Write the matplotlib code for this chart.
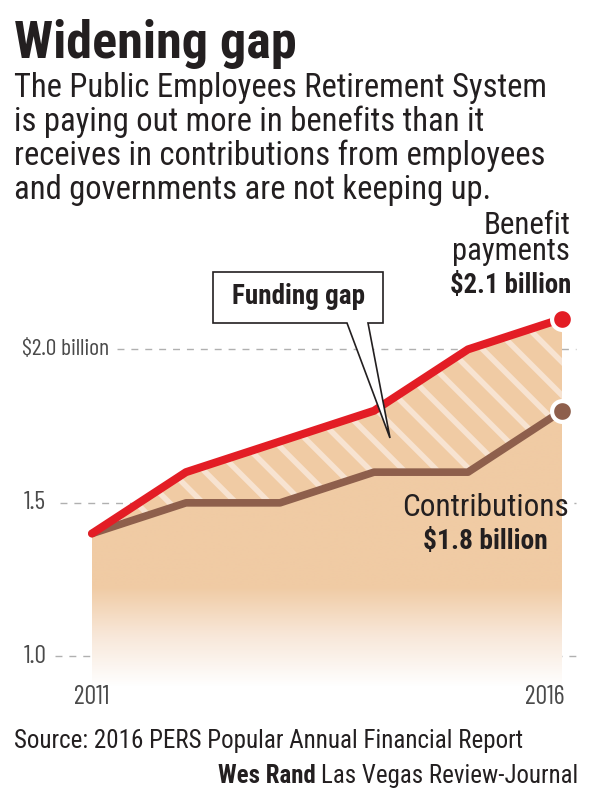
import numpy as np
import matplotlib
matplotlib.use("Agg")
import matplotlib.pyplot as plt
import matplotlib.transforms as mtransforms
from matplotlib.colors import LinearSegmentedColormap
from matplotlib.patches import Polygon

# ── data ───────────────────────────────────────────────────────────────────────
YEARS = [2011, 2012, 2013, 2014, 2015, 2016]
BENEFITS = [1.4, 1.6, 1.7, 1.8, 2.0, 2.1]        # $ billion
CONTRIBUTIONS = [1.4, 1.5, 1.5, 1.6, 1.6, 1.8]   # $ billion
Y_TICKS = [1.0, 1.5, 2.0]
Y_LABELS = ["1.0", "1.5", "$2.0 billion"]
X_TICKS = [2011, 2016]

# ── style ──────────────────────────────────────────────────────────────────────
RED = "#e31d25"
BROWN = "#8e5f4c"
PEACH = "#f0cba4"
STRIPE = "#f7e3d1"
GRID = "#b0b0b0"
INK = "#231f20"
AXIS_INK = "#4a4a4a"
FONT = ["Roboto Condensed", "DejaVu Sans"]
AXIS_FONT = ["Barlow Condensed", "Roboto Condensed", "DejaVu Sans"]

plt.rcParams["font.family"] = FONT
plt.rcParams["hatch.linewidth"] = 4.0
plt.rcParams["hatch.color"] = STRIPE

W, H = 600, 796
fig = plt.figure(figsize=(W / 100, H / 100), dpi=100)
renderer = fig.canvas.get_renderer()

# overlay axes in pixel units (origin top-left) for text and callout
ov = fig.add_axes([0, 0, 1, 1])
ov.set_xlim(0, W)
ov.set_ylim(H, 0)
ov.axis("off")
ov.set_zorder(5)


def fit(x, y, s, width, **kw):
    """Place text and scale its font size so it spans `width` pixels."""
    t = ov.text(x, y, s, **kw)
    w = t.get_window_extent(renderer).width
    t.set_fontsize(t.get_fontsize() * width / w)
    return t


# data axes: 2011 -> 92px, 2016 -> 562px ; 1.0 -> 656px, 2.0 -> 349px
ax = fig.add_axes([92 / W, 109 / H, 470 / W, 399 / H])
ax.set_xlim(2011, 2016)
ax.set_ylim(0.9, 2.2)
ax.axis("off")

# gridlines
for v, x0 in zip(Y_TICKS, [55, 60, 117]):
    ax.axhline(v, xmin=(x0 - 92) / 470, xmax=(576 - 92) / 470, color=GRID,
               lw=1.0, ls=(0, (5, 5)), clip_on=False, zorder=1)

# gradient area under contributions
grad = LinearSegmentedColormap.from_list("g", ["#ffffff", "#f8e8da", PEACH])
gy = np.linspace(0, 1, 256).reshape(-1, 1)
gy = np.clip(gy / 0.25, 0, 1)
img = ax.imshow(gy, cmap=grad, origin="lower", aspect="auto",
                extent=[2011, 2016, 0.9, 2.2], zorder=2, interpolation="bilinear")
clip = Polygon(np.r_[[[2011, 0.9]], np.c_[YEARS, CONTRIBUTIONS], [[2016, 0.9]]],
               transform=ax.transData, closed=True)
img.set_clip_path(clip)

# funding gap (striped)
ax.fill_between(YEARS, CONTRIBUTIONS, BENEFITS, facecolor=PEACH, edgecolor=STRIPE,
                hatch="\\", lw=0, zorder=2.5)

# lines
ax.plot(YEARS, CONTRIBUTIONS, color=BROWN, lw=5.5, solid_capstyle="round",
        solid_joinstyle="round", zorder=3, clip_on=False)
ax.plot(YEARS, BENEFITS, color=RED, lw=5.8, solid_capstyle="round",
        solid_joinstyle="round", zorder=3.5, clip_on=False)
ax.plot(YEARS[-1], CONTRIBUTIONS[-1], "o", ms=15, mfc=BROWN, mec="white", mew=3,
        zorder=4, clip_on=False)
ax.plot(YEARS[-1], BENEFITS[-1], "o", ms=15, mfc=RED, mec="white", mew=3,
        zorder=4, clip_on=False)

# axis labels
ytr = mtransforms.blended_transform_factory(ov.transData, ax.transData)
ref = ov.text(0, 0, "$2.0 billion", family=AXIS_FONT, fontsize=16)
axis_size = 16 * 88 / ref.get_window_extent(renderer).width
ref.remove()
for v, lab in zip(Y_TICKS, Y_LABELS):
    ax.text(22 if lab.startswith("$") else 24, v, lab, ha="left", va="center",
            fontsize=axis_size * (1.0 if lab.startswith("$") else 1.08),
            family=AXIS_FONT, color=AXIS_INK, transform=ytr, clip_on=False)
xtr = mtransforms.blended_transform_factory(ax.transData, ov.transData)
for yr, ha in zip(X_TICKS, ["center", "right"]):
    ax.text(yr + (0.03 if ha == "right" else 0), 697, str(yr), ha=ha, va="center",
            fontsize=axis_size * 1.1, family=AXIS_FONT,
            color=AXIS_INK, transform=xtr, clip_on=False)

# headline and intro
fit(14, 58, "Widening gap", 283, fontsize=40, fontweight="bold", color=INK,
    ha="left", va="baseline")
intro = ["The Public Employees Retirement System",
         "is paying out more in benefits than it",
         "receives in contributions from employees",
         "and governments are not keeping up."]
t0 = fit(14, 97, intro[0], 534, fontsize=22, color=INK, ha="left", va="baseline")
for i, line in enumerate(intro[1:], start=1):
    ov.text(14, 97 + 34 * i, line, fontsize=t0.get_fontsize(), color=INK,
            ha="left", va="baseline")

# series labels
fit(570, 225, "Benefit", 87, fontsize=22, color=INK, ha="right", va="center")
fit(570, 252, "payments", 118, fontsize=22, color=INK, ha="right", va="center")
fit(571, 285, "$2.1 billion", 121, fontsize=22, fontweight="bold", color=INK,
    ha="right", va="center")
fit(485, 508, "Contributions", 166, fontsize=22, color=INK, ha="center", va="center")
fit(485, 542, "$1.8 billion", 125, fontsize=22, fontweight="bold", color=INK,
    ha="center", va="center")

# callout
callout = Polygon([[213, 272], [383, 272], [383, 323], [368, 323], [390, 438],
                   [347, 323], [213, 323]], closed=True, facecolor="white",
                  edgecolor=INK, lw=1.2, zorder=6)
ov.add_patch(callout)
fit(299, 297, "Funding gap", 133, fontsize=18, fontweight="bold", color=INK,
    ha="center", va="center", zorder=7)

# footer
fit(14, 741, "Source: 2016 PERS Popular Annual Financial Report", 509, fontsize=17,
    color=INK, ha="left", va="center")
lvrj = ov.text(578, 776, "Las Vegas Review-Journal", fontsize=17, color=INK,
               ha="right", va="center")
wes = ov.text(0, 776, "Wes Rand", fontsize=17, fontweight="bold", color=INK,
              ha="right", va="center")
total = lvrj.get_window_extent(renderer).width + wes.get_window_extent(renderer).width + 5
for t in (lvrj, wes):
    t.set_fontsize(17 * 360 / total)
bb = lvrj.get_window_extent(renderer)
wes.set_x(bb.x0 - 5)

fig.savefig("out.png", dpi=100)
